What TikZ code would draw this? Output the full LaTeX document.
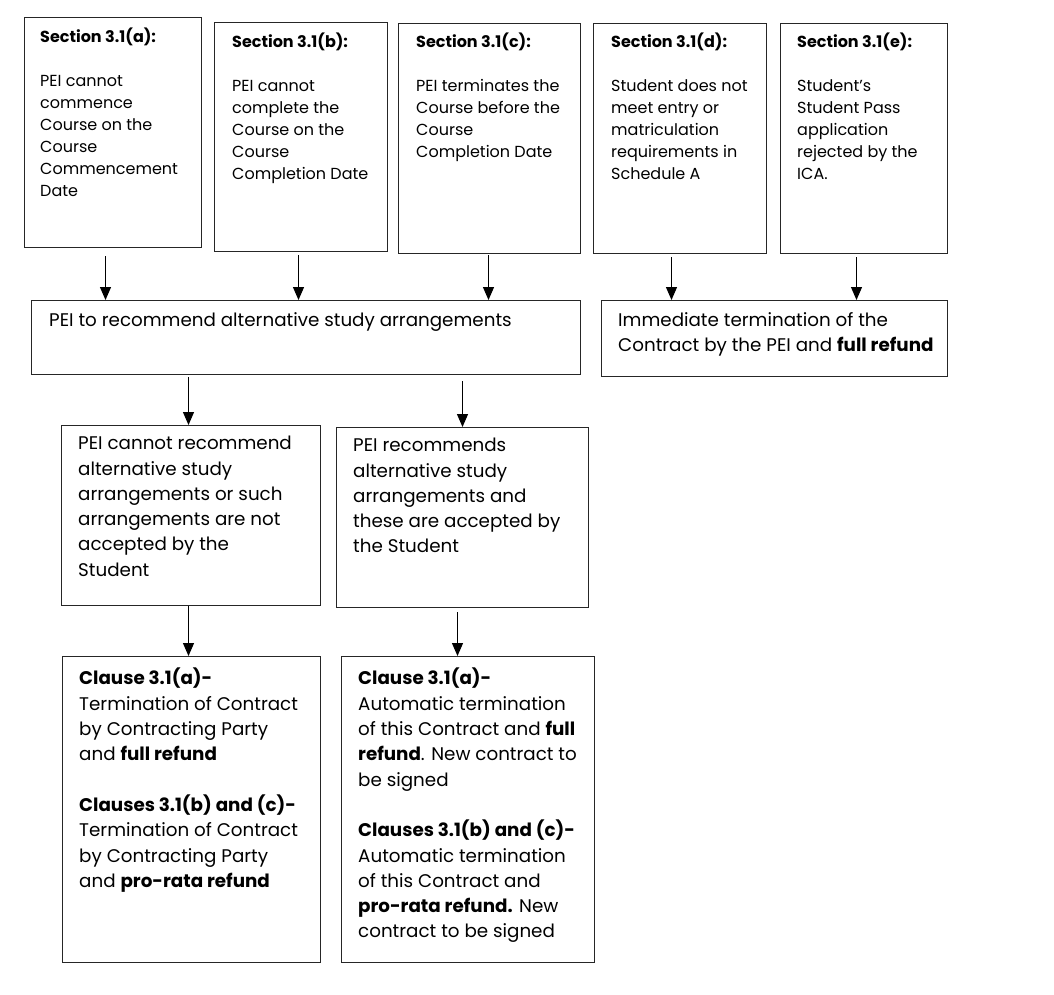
\documentclass[tikz,border=0pt]{standalone}
\usepackage{fontspec}
\setmainfont{Poppins}
\usetikzlibrary{arrows.meta,calc}
\begin{document}
\begin{tikzpicture}[x=1pt,y=-1pt,
  box/.style={draw=black!85, line width=1pt, anchor=north west, inner sep=0pt},
  txt/.style={anchor=north west, align=left, inner sep=0pt, font=\fontsize{16}{22}\selectfont},
  txtb/.style={anchor=north west, align=left, inner sep=0pt, font=\fontsize{18.3}{25.3}\selectfont},
  arr/.style={line width=1.2pt, -{Triangle[width=11pt,length=13pt]}}]
\useasboundingbox (0,0) rectangle (1054,994);
% boxes
\node[box, minimum width=177pt, minimum height=230pt] (A) at (24,17) {};
\node[box, minimum width=173pt, minimum height=229pt] (B) at (214,22) {};
\node[box, minimum width=182pt, minimum height=230pt] (C) at (398,23) {};
\node[box, minimum width=173pt, minimum height=230pt] (D) at (593,23) {};
\node[box, minimum width=167pt, minimum height=230pt] (E) at (780,23) {};
\node[box, minimum width=549pt, minimum height=74pt] (M) at (31,300) {};
\node[box, minimum width=346pt, minimum height=76pt] (R) at (601,300) {};
\node[box, minimum width=259pt, minimum height=180pt] (L1) at (61,425) {};
\node[box, minimum width=252pt, minimum height=180pt] (L2) at (336,427) {};
\node[box, minimum width=258pt, minimum height=306pt] (F1) at (62,656) {};
\node[box, minimum width=253pt, minimum height=306pt] (F2) at (341,656) {};
% texts
\node[txt] (At) at (40,28) {\textbf{Section 3.1(a):}\\[22pt]PEI cannot\\commence\\Course on the\\Course\\Commencement\\Date};
\node[txt] (Bt) at (232,33) {\textbf{Section 3.1(b):}\\[22pt]PEI cannot\\complete the\\Course on the\\Course\\Completion Date};
\node[txt] (Ct) at (416,33) {\textbf{Section 3.1(c):}\\[22pt]PEI terminates the\\Course before the\\Course\\Completion Date};
\node[txt] (Dt) at (611,33) {\textbf{Section 3.1(d):}\\[22pt]Student does not\\meet entry or\\matriculation\\requirements in\\Schedule A};
\node[txt] (Et) at (797,33) {\textbf{Section 3.1(e):}\\[22pt]Student’s\\Student Pass\\application\\rejected by the\\ICA.};
\node[txtb] (Mt) at (49,312) {PEI to recommend alternative study arrangements};
\node[txtb] (Rt) at (618,312) {Immediate termination of the\\Contract by the PEI and \textbf{full refund}};
\node[txtb] (L1t) at (78,436) {PEI cannot recommend\\alternative study\\arrangements or such\\arrangements are not\\accepted by the\\Student};
\node[txtb] (L2t) at (353,438) {PEI recommends\\alternative study\\arrangements and\\these are accepted by\\the Student};
\node[txtb] (F1t) at (79,668) {\textbf{Clause 3.1(a)-}\\Termination of Contract\\by Contracting Party\\and \textbf{full refund}\\[25.3pt]\textbf{Clauses 3.1(b) and (c)-}\\Termination of Contract\\by Contracting Party\\and \textbf{pro-rata refund}};
\node[txtb] (F2t) at (358,668) {\textbf{Clause 3.1(a)-}\\Automatic termination\\of this Contract and \textbf{full}\\\textbf{refund}. New contract to\\be signed\\[25.3pt]\textbf{Clauses 3.1(b) and (c)-}\\Automatic termination\\of this Contract and\\\textbf{pro-rata refund.} New\\contract to be signed};
% arrows
\draw[arr] ($(A.south)+(-7.5,8)$) coordinate (sa) -- (sa |- M.north);
\draw[arr] ($(B.south)+(-2.5,3)$) coordinate (sb) -- (sb |- M.north);
\draw[arr] ($(C.south)+(-1,1)$) coordinate (sc) -- (sc |- M.north);
\draw[arr] ($(D.south)+(-8.5,3)$) coordinate (sd) -- (sd |- R.north);
\draw[arr] ($(E.south)+(-7.5,3)$) coordinate (se) -- (se |- R.north);
\draw[arr] ($(M.south)+(-117.5,2)$) coordinate (sf) -- (sf |- L1.north);
\draw[arr] ($(M.south)+(156.5,6)$) coordinate (sg) -- (sg |- L2.north);
\draw[arr] ($(L1.south)+(-2.5,0)$) coordinate (sh) -- (sh |- F1.north);
\draw[arr] ($(L2.south)+(-5,4)$) coordinate (si) -- (si |- F2.north);
\end{tikzpicture}
\end{document}
